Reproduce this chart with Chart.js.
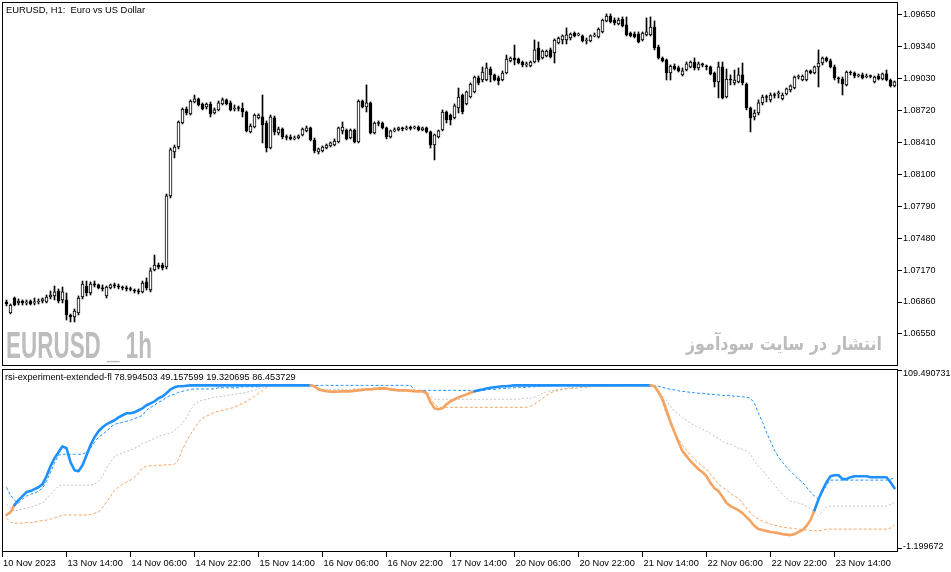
<!DOCTYPE html>
<html>
<head>
<meta charset="utf-8">
<title>EURUSD H1</title>
<script src="https://cdn.jsdelivr.net/npm/chart.js@4/dist/chart.umd.min.js"></script>
<style>
  html, body { margin:0; padding:0; background:#fff; }
  #wrap { position:relative; width:951px; height:572px; overflow:hidden; background:#fff; }
  #wrap canvas { position:absolute; left:0; }
  .lbl { position:absolute; font-family:"Liberation Sans", Arial, sans-serif; color:#000; white-space:pre; line-height:1; }
  #wm1 { position:absolute; left:6px; top:327px; font-family:"Liberation Sans Narrow","Liberation Sans",Arial,sans-serif; font-weight:bold; font-size:37.5px; line-height:1; color:#bdbdbd; white-space:pre; transform-origin:0 0; }
  #wm2 { position:absolute; right:69px; top:334px; font-family:"DejaVu Sans",sans-serif; font-weight:bold; font-size:19px; line-height:1; color:#bcbcbc; white-space:pre; transform-origin:100% 0; direction:rtl; }
</style>
</head>
<body>
<div id="wrap">
  <canvas id="priceChart" width="951" height="368" style="top:0"></canvas>
  <canvas id="oscChart" width="951" height="204" style="top:368px"></canvas>
  <div class="lbl" style="left:6px;top:5px;font-size:9.4px">EURUSD, H1:  Euro vs US Dollar</div>
  <div class="lbl" style="left:5px;top:373px;font-size:9.2px">rsi-experiment-extended-fl 78.994503 49.157599 19.320695 86.453729</div>
  <div id="wm1">EURUSD _ 1h</div>
  <div id="wm2">انتشار در سایت سودآموز</div>
</div>
<script>
// ---------- tick labels ----------
const timeTickPos = [-1.125, 15, 31, 47, 63, 79, 95, 111, 127, 143, 159, 175, 191, 207];
const timeTickLabels = ['10 Nov 2023','13 Nov 14:00','14 Nov 06:00','14 Nov 22:00','15 Nov 14:00','16 Nov 06:00','16 Nov 22:00','17 Nov 14:00','20 Nov 06:00','20 Nov 22:00','21 Nov 14:00','22 Nov 06:00','22 Nov 22:00','23 Nov 14:00'];
const priceTicks = [1.0655, 1.0686, 1.0717, 1.0748, 1.0779, 1.0810, 1.0841, 1.0872, 1.0903, 1.0934, 1.0965];
const oscTicks = [-1.199672, 109.490731];

// ---------- EURUSD H1 candles ----------
const opens = [
1.06860,1.06753,1.06899,1.06851,1.06870,1.06851,1.06870,1.06851,1.06860,1.06870,
1.06860,1.06909,1.06919,1.06967,1.06880,1.06880,1.06734,1.06715,1.06753,1.06909,
1.07016,1.06948,1.07035,1.07026,1.06996,1.06919,1.06996,1.07026,1.07016,1.07006,
1.06996,1.06987,1.06977,1.06967,1.06958,1.07055,1.06977,1.07171,1.07220,1.07220,
1.07201,1.07891,1.08318,1.08367,1.08600,1.08736,1.08688,1.08804,1.08834,1.08785,
1.08756,1.08785,1.08697,1.08727,1.08785,1.08824,1.08795,1.08736,1.08746,1.08746,
1.08707,1.08513,1.08561,1.08649,1.08659,1.08600,1.08357,1.08649,1.08503,1.08542,
1.08464,1.08464,1.08445,1.08454,1.08484,1.08523,1.08552,1.08435,1.08318,1.08328,
1.08357,1.08377,1.08386,1.08416,1.08523,1.08532,1.08454,1.08532,1.08416,1.08814,
1.08756,1.08795,1.08503,1.08600,1.08600,1.08552,1.08464,1.08523,1.08532,1.08552,
1.08542,1.08552,1.08552,1.08561,1.08532,1.08552,1.08513,1.08386,1.08464,1.08532,
1.08707,1.08678,1.08649,1.08746,1.08872,1.08785,1.08853,1.08902,1.09038,1.09018,
1.09018,1.09125,1.09067,1.09038,1.09018,1.09086,1.09203,1.09232,1.09222,1.09193,
1.09164,1.09154,1.09193,1.09329,1.09232,1.09252,1.09310,1.09281,1.09378,1.09407,
1.09407,1.09426,1.09475,1.09456,1.09446,1.09397,1.09397,1.09446,1.09436,1.09485,
1.09592,1.09640,1.09601,1.09563,1.09611,1.09553,1.09475,1.09465,1.09465,1.09407,
1.09456,1.09456,1.09533,1.09339,1.09232,1.09213,1.09086,1.09154,1.09135,1.09067,
1.09115,1.09145,1.09193,1.09135,1.09174,1.09154,1.09145,1.09086,1.08999,1.09145,
1.08853,1.09028,1.08989,1.08999,1.09067,1.08979,1.08746,1.08659,1.08697,1.08795,
1.08853,1.08824,1.08872,1.08882,1.08834,1.08882,1.08921,1.08940,1.09047,1.09018,
1.09018,1.09106,1.09086,1.09145,1.09183,1.09232,1.09203,1.09145,1.09038,1.09028,
1.08970,1.09096,1.09086,1.09057,1.09067,1.09047,1.09057,1.08999,1.09057,1.09028,
1.09077,1.09018,1.08960];
const highs = [
1.06880,1.06841,1.06909,1.06890,1.06880,1.06880,1.06880,1.06899,1.06890,1.06899,
1.06928,1.06967,1.07016,1.06987,1.07006,1.06948,1.06744,1.06792,1.06919,1.07064,
1.07064,1.07055,1.07064,1.07035,1.07026,1.07016,1.07035,1.07045,1.07035,1.07016,
1.07016,1.07006,1.06987,1.06987,1.07064,1.07094,1.07191,1.07317,1.07239,1.07239,
1.07910,1.08357,1.08386,1.08620,1.08746,1.08756,1.08824,1.08872,1.08843,1.08795,
1.08795,1.08804,1.08746,1.08814,1.08843,1.08834,1.08814,1.08775,1.08766,1.08795,
1.08717,1.08591,1.08688,1.08688,1.08872,1.08620,1.08678,1.08668,1.08561,1.08552,
1.08484,1.08484,1.08474,1.08484,1.08552,1.08571,1.08561,1.08454,1.08357,1.08377,
1.08396,1.08416,1.08445,1.08561,1.08610,1.08542,1.08542,1.08542,1.08824,1.08824,
1.08970,1.08804,1.08610,1.08620,1.08610,1.08561,1.08532,1.08552,1.08561,1.08561,
1.08571,1.08571,1.08571,1.08571,1.08561,1.08561,1.08523,1.08493,1.08532,1.08727,
1.08717,1.08688,1.08785,1.08940,1.08882,1.08911,1.08989,1.09057,1.09057,1.09145,
1.09183,1.09145,1.09077,1.09057,1.09106,1.09261,1.09242,1.09358,1.09232,1.09203,
1.09193,1.09203,1.09407,1.09388,1.09310,1.09310,1.09329,1.09417,1.09436,1.09456,
1.09524,1.09475,1.09485,1.09475,1.09456,1.09426,1.09456,1.09475,1.09524,1.09611,
1.09660,1.09660,1.09621,1.09621,1.09631,1.09631,1.09485,1.09485,1.09485,1.09485,
1.09621,1.09631,1.09592,1.09358,1.09242,1.09222,1.09164,1.09174,1.09154,1.09135,
1.09193,1.09203,1.09232,1.09193,1.09183,1.09164,1.09154,1.09096,1.09193,1.09193,
1.09125,1.09067,1.09115,1.09135,1.09183,1.08989,1.08756,1.08727,1.08824,1.08872,
1.08872,1.08892,1.08892,1.08911,1.08892,1.08940,1.08970,1.09057,1.09067,1.09067,
1.09115,1.09115,1.09154,1.09310,1.09242,1.09242,1.09222,1.09164,1.09047,1.09047,
1.09106,1.09106,1.09096,1.09077,1.09086,1.09077,1.09067,1.09057,1.09077,1.09086,
1.09115,1.09028,1.09009];
const lows = [
1.06822,1.06744,1.06822,1.06831,1.06831,1.06831,1.06831,1.06831,1.06841,1.06851,
1.06851,1.06890,1.06880,1.06851,1.06851,1.06685,1.06666,1.06666,1.06734,1.06890,
1.06919,1.06928,1.07006,1.06987,1.06967,1.06899,1.06987,1.06996,1.06987,1.06977,
1.06967,1.06967,1.06948,1.06938,1.06948,1.06977,1.06958,1.07162,1.07181,1.07171,
1.07181,1.07871,1.08260,1.08348,1.08591,1.08678,1.08678,1.08795,1.08766,1.08727,
1.08736,1.08659,1.08688,1.08717,1.08775,1.08775,1.08717,1.08717,1.08717,1.08659,
1.08513,1.08503,1.08552,1.08639,1.08406,1.08318,1.08348,1.08484,1.08484,1.08445,
1.08435,1.08435,1.08435,1.08445,1.08474,1.08513,1.08425,1.08309,1.08299,1.08318,
1.08348,1.08367,1.08377,1.08406,1.08493,1.08435,1.08445,1.08406,1.08406,1.08746,
1.08707,1.08493,1.08493,1.08571,1.08542,1.08445,1.08454,1.08513,1.08523,1.08523,
1.08532,1.08532,1.08542,1.08523,1.08523,1.08503,1.08357,1.08241,1.08454,1.08523,
1.08600,1.08581,1.08639,1.08697,1.08688,1.08775,1.08843,1.08892,1.08970,1.08999,
1.09009,1.08999,1.09009,1.08970,1.09009,1.09077,1.09193,1.09164,1.09174,1.09145,
1.09145,1.09145,1.09183,1.09193,1.09222,1.09242,1.09232,1.09183,1.09368,1.09368,
1.09368,1.09407,1.09436,1.09446,1.09388,1.09368,1.09388,1.09436,1.09426,1.09475,
1.09582,1.09572,1.09553,1.09553,1.09533,1.09446,1.09436,1.09426,1.09378,1.09397,
1.09446,1.09446,1.09310,1.09222,1.09193,1.09018,1.09018,1.09115,1.09096,1.09057,
1.09106,1.09135,1.09115,1.09115,1.09145,1.09115,1.09067,1.08950,1.08843,1.08834,
1.08843,1.08970,1.08970,1.08989,1.08970,1.08727,1.08513,1.08629,1.08678,1.08775,
1.08804,1.08804,1.08843,1.08843,1.08824,1.08872,1.08902,1.08931,1.09028,1.09009,
1.09009,1.09077,1.09077,1.08950,1.09164,1.09193,1.09135,1.09018,1.08989,1.08872,
1.08960,1.09067,1.09038,1.09047,1.09028,1.09038,1.09038,1.08989,1.09018,1.09018,
1.09009,1.08950,1.08950];
const closes = [
1.06841,1.06831,1.06831,1.06870,1.06851,1.06860,1.06841,1.06860,1.06870,1.06890,
1.06909,1.06928,1.06958,1.06870,1.06958,1.06734,1.06715,1.06773,1.06899,1.07035,
1.06948,1.07035,1.07026,1.06996,1.06987,1.07006,1.07026,1.07016,1.07006,1.06996,
1.06987,1.06982,1.06967,1.06958,1.07045,1.06996,1.07162,1.07220,1.07201,1.07191,
1.07891,1.08338,1.08367,1.08610,1.08736,1.08697,1.08814,1.08834,1.08775,1.08736,
1.08785,1.08688,1.08727,1.08795,1.08824,1.08785,1.08727,1.08746,1.08741,1.08707,
1.08523,1.08571,1.08678,1.08678,1.08581,1.08357,1.08659,1.08513,1.08542,1.08464,
1.08459,1.08445,1.08454,1.08474,1.08542,1.08552,1.08435,1.08328,1.08348,1.08367,
1.08386,1.08406,1.08425,1.08552,1.08561,1.08445,1.08532,1.08416,1.08814,1.08756,
1.08795,1.08503,1.08600,1.08595,1.08552,1.08464,1.08523,1.08532,1.08552,1.08542,
1.08552,1.08547,1.08561,1.08532,1.08552,1.08513,1.08386,1.08484,1.08523,1.08707,
1.08629,1.08629,1.08766,1.08853,1.08707,1.08902,1.08979,1.09047,1.08989,1.09096,
1.09135,1.09067,1.09018,1.09009,1.09086,1.09222,1.09232,1.09213,1.09183,1.09164,
1.09174,1.09193,1.09310,1.09213,1.09300,1.09300,1.09242,1.09407,1.09426,1.09446,
1.09456,1.09465,1.09446,1.09465,1.09397,1.09407,1.09446,1.09456,1.09514,1.09601,
1.09640,1.09582,1.09572,1.09601,1.09543,1.09456,1.09446,1.09436,1.09388,1.09475,
1.09485,1.09533,1.09329,1.09232,1.09203,1.09086,1.09154,1.09125,1.09106,1.09106,
1.09174,1.09193,1.09135,1.09174,1.09164,1.09145,1.09077,1.08999,1.09145,1.08843,
1.09028,1.09018,1.09018,1.09067,1.08989,1.08746,1.08649,1.08697,1.08795,1.08853,
1.08848,1.08872,1.08867,1.08892,1.08872,1.08931,1.08960,1.09047,1.09057,1.09057,
1.09106,1.09086,1.09145,1.09183,1.09232,1.09203,1.09145,1.09038,1.09028,1.08979,
1.09096,1.09086,1.09057,1.09067,1.09038,1.09057,1.09052,1.09047,1.09028,1.09077,
1.09018,1.08960,1.08999];

// ---------- rsi-experiment-extended-fl buffers ----------
const rsiLine = [
19.8,21.6,25.9,29.0,31.5,34.0,34.6,35.8,37.0,38.9,
43.8,50.0,54.9,58.6,62.3,61.1,52.5,47.5,46.9,50.6,
56.8,63.0,67.9,71.6,74.1,75.9,77.2,78.4,80.2,81.5,
82.7,82.7,83.3,84.6,85.8,87.7,88.9,90.1,92.0,93.2,
95.1,97.5,98.8,99.4,99.4,99.7,100,100,100,100,
100,100,100,100,100,100,100,100,100,100,
100,100,100,100,100,100,100,100,100,100,
100,100,100,100,100,100,100,99.4,97.5,96.9,
96.3,96.0,96.0,96.0,96.3,96.3,96.3,96.6,96.9,97.2,
97.5,97.5,97.8,98.1,98.1,98.1,97.5,97.2,96.9,96.9,
96.9,96.6,96.3,96.3,96.3,95.1,89.5,85.8,85.2,85.8,
88.3,90.1,91.4,92.6,93.5,94.4,95.4,96.3,96.9,97.5,
98.1,98.5,98.8,99.1,99.4,99.4,99.7,100,100,100,
100,100,100,100,100,100,100,100,100,100,
100,100,100,100,100,100,100,100,100,100,
100,100,100,100,100,100,100,100,100,100,
100,100,99.4,95.7,91.4,84.6,77.2,71.0,64.8,59.3,
56.2,53.1,50.6,48.1,46.3,43.8,39.5,36.4,34.6,30.9,
27.2,25.3,24.1,22.8,21.0,18.5,16.0,13.0,11.1,10.5,
9.9,9.3,9.0,8.6,8.0,7.7,7.4,8.0,9.3,10.5,
13.0,16.7,22.8,29.6,35.2,40.1,43.8,44.4,44.4,42.0,
42.0,43.2,43.8,43.8,43.8,43.8,43.2,43.2,43.2,43.2,
43.2,40.1,36.4];
const upperBand = [
37.0,32.1,29.0,27.2,29.6,31.5,32.7,33.3,34.6,36.4,
40.7,46.3,51.9,56.8,57.4,57.4,57.4,57.4,57.4,57.4,
58.6,61.1,64.8,67.9,69.8,71.6,74.1,75.9,76.5,77.2,
77.8,78.4,79.6,80.2,81.5,84.6,86.4,87.7,89.5,90.7,
92.6,93.8,94.4,95.7,96.3,96.9,97.5,97.8,97.8,97.8,
97.8,97.8,97.8,98.5,98.5,98.5,98.5,98.5,98.5,99.1,
99.1,99.1,99.1,99.1,100,100,100,100,100,100,
100,100,100,100,100,100,100,100,100,100,
100,100,100,100,100,100,100,100,100,100,
100,100,100,100,100,100,100,100,100,100,
100,100,96.9,96.9,96.9,96.9,96.9,96.9,96.9,96.9,
96.9,96.9,96.9,96.9,96.9,96.9,96.9,96.9,96.9,96.9,
97.2,97.5,97.5,97.8,98.1,98.1,98.5,98.5,98.8,98.8,
98.8,99.1,99.1,99.4,99.4,99.7,99.7,100,100,100,
100,100,100,100,100,100,100,100,100,100,
100,100,100,100,100,100,100,100,100,100,
100,100,99.7,99.4,98.8,98.1,97.5,97.2,96.6,96.3,
96.0,95.7,95.4,95.1,95.1,94.8,94.4,94.4,94.1,93.8,
93.8,93.8,93.2,93.2,92.9,92.6,92.0,88.9,82.7,77.2,
71.0,65.4,59.9,55.6,52.5,49.4,46.9,44.4,42.0,40.1,
37.0,34.0,31.5,29.6,34.0,38.3,41.4,41.4,41.4,41.4,
41.4,41.4,41.4,41.4,41.4,41.4,41.4,41.4,41.4,41.4,
41.4,42.0,42.6];
const midBand = [
26.5,24.1,22.2,22.8,23.5,24.1,24.7,25.3,26.5,27.2,
30.2,32.7,35.2,37.7,38.3,38.3,38.3,38.3,38.3,38.3,
38.3,38.3,38.9,40.7,43.8,48.8,52.5,56.2,57.4,58.0,
59.3,59.9,61.1,62.3,64.2,64.8,66.0,67.3,68.5,69.1,
69.8,70.4,72.2,74.1,76.5,80.2,84.6,88.3,90.1,90.7,
91.4,92.0,92.6,92.9,93.2,93.8,94.1,94.4,95.1,95.1,
95.7,96.3,96.9,98.1,98.8,99.4,99.7,100,100,100,
100,100,100,100,100,100,100,99.4,98.1,97.5,
97.5,97.5,97.5,97.5,97.5,97.5,97.5,97.8,97.8,97.8,
97.8,97.8,97.8,97.8,97.8,97.8,97.5,97.5,97.5,97.5,
96.9,96.9,96.9,96.9,96.9,96.3,93.8,91.4,91.4,91.4,
91.4,91.4,91.4,91.4,91.4,91.4,91.4,91.4,91.4,91.4,
91.4,91.4,91.4,91.4,91.4,91.4,91.4,91.4,91.4,92.0,
92.0,92.0,92.6,93.8,95.1,96.0,96.6,96.9,97.5,97.8,
98.1,98.5,98.8,99.1,99.1,99.4,99.4,99.4,99.4,99.4,
99.4,99.7,99.7,99.7,99.7,99.7,100,100,100,100,
100,100,99.4,96.3,93.8,90.7,87.0,84.0,82.1,80.2,
78.4,76.5,75.3,74.1,72.8,71.6,70.4,68.5,67.3,65.4,
64.2,63.6,62.3,61.1,60.5,59.3,57.4,53.1,50.0,47.5,
44.4,41.4,38.3,35.2,32.7,30.2,28.4,27.8,27.2,26.5,
25.3,23.5,21.6,19.1,22.2,24.7,25.3,25.3,25.3,25.3,
25.3,25.3,25.3,25.3,25.3,25.3,25.3,25.3,25.3,25.3,
25.3,26.5,27.8];
const lowerBand = [
17.9,15.4,14.8,14.8,14.8,15.1,15.1,15.4,16.0,16.4,
16.7,17.3,17.9,18.8,19.8,19.8,19.8,19.8,19.8,19.8,
19.8,20.1,21.0,21.6,24.7,27.8,31.5,35.2,37.0,38.9,
40.1,41.4,43.2,45.7,48.8,50.0,50.3,50.3,50.6,50.6,
50.9,50.9,51.2,54.3,60.5,65.4,69.8,73.5,77.2,79.6,
80.9,82.1,83.3,84.0,84.6,85.2,85.8,86.4,87.7,88.9,
90.1,91.7,93.2,95.1,96.9,98.8,99.7,100,100,100,
100,100,100,100,100,100,100,99.4,98.1,96.9,
96.9,96.9,96.9,96.9,96.9,96.9,96.9,97.5,97.5,97.5,
97.5,97.5,97.5,97.5,97.5,97.5,96.9,96.9,96.9,96.9,
96.9,96.9,96.9,96.9,96.9,95.7,92.0,88.3,86.4,86.4,
86.4,86.4,86.4,86.4,86.4,86.4,86.4,86.4,86.4,86.4,
86.4,86.4,86.4,86.4,86.4,86.4,86.4,86.4,86.4,86.4,
86.4,87.0,88.3,90.1,92.0,93.8,95.4,96.3,96.9,97.5,
97.8,98.1,98.1,98.5,98.8,98.8,99.1,99.4,99.4,99.4,
99.7,99.7,99.7,99.7,99.7,99.7,100,100,100,100,
100,100,99.7,96.9,89.5,82.1,77.2,71.6,66.7,63.0,
59.9,56.8,54.3,51.9,50.0,48.1,45.1,42.0,38.9,37.0,
35.2,33.3,31.5,30.2,27.2,24.1,21.0,18.5,17.3,16.0,
15.1,14.2,13.6,13.0,12.3,12.0,11.7,11.4,11.1,10.8,
10.5,10.2,10.2,9.9,10.5,11.1,11.1,11.1,11.1,11.1,
11.1,11.1,11.1,11.1,11.1,11.1,11.1,11.1,11.1,11.1,
11.1,11.7,13.6];
// bar ranges where the main line is in its falling (orange) state
const fallingRanges = [[0, 2], [76, 117], [161, 202]];

// ---------- styling ----------
const FONT = 'Liberation Sans';
const BLUE = '#1e90ff', ORANGE = '#f4a460', SILVER = '#c0c0c0';

const frame = {
  id: 'frame',
  afterDraw(chart) {
    const { ctx, chartArea: a } = chart;
    ctx.save();
    ctx.strokeStyle = '#000';
    ctx.lineWidth = 1;
    ctx.strokeRect(a.left + 0.5, a.top + 0.5, a.right - a.left - 1, a.bottom - a.top - 1);
    ctx.restore();
  }
};

function noPad(s) { s.paddingTop = 0; s.paddingBottom = 0; s.paddingLeft = 0; s.paddingRight = 0; }

const xRange = { type: 'linear', min: -1.125, max: 222.875, offset: false };

// ---------- price chart ----------
const wickData = lows.map((l, i) => ({ x: i, y: [l, highs[i]] }));
const bodyData = opens.map((o, i) => ({ x: i, y: [o, closes[i]] }));

new Chart(document.getElementById('priceChart'), {
  type: 'bar',
  data: {
    datasets: [
      { data: wickData, barThickness: 1, backgroundColor: '#000', borderWidth: 0, grouped: false, order: 2 },
      { data: bodyData, barThickness: 3, minBarLength: 1, grouped: false, order: 1,
        backgroundColor: ctx => closes[ctx.dataIndex] >= opens[ctx.dataIndex] ? '#fff' : '#000',
        borderColor: '#000', borderWidth: 1, borderSkipped: false }
    ]
  },
  options: {
    responsive: false, animation: false, devicePixelRatio: 1, events: [],
    plugins: { legend: { display: false }, tooltip: { enabled: false } },
    layout: { padding: { left: 2, top: 2, right: 0, bottom: 2 } },
    scales: {
      x: Object.assign({}, xRange, { display: false }),
      y: {
        type: 'linear', position: 'right', min: 1.06238, max: 1.09776, bounds: 'data',
        afterFit: s => { s.width = 53; noPad(s); },
        afterBuildTicks: s => { s.ticks = priceTicks.map(v => ({ value: v })); },
        ticks: { callback: v => Number(v).toFixed(5), font: { family: FONT, size: 9 }, color: '#000', padding: 1, autoSkip: false },
        grid: { drawOnChartArea: false, drawTicks: true, tickLength: 4, color: '#000', lineWidth: 1 },
        border: { display: false }
      }
    }
  },
  plugins: [frame]
});

// ---------- oscillator chart ----------
const pts = arr => arr.map((v, i) => ({ x: i, y: v }));
const isFalling = i => fallingRanges.some(([a, b]) => i >= a && i <= b);

new Chart(document.getElementById('oscChart'), {
  type: 'line',
  data: {
    datasets: [
      { data: pts(rsiLine), borderColor: BLUE, borderWidth: 2.6, pointRadius: 0, tension: 0, order: 0,
        borderJoinStyle: 'round', borderCapStyle: 'round',
        segment: { borderColor: c => (isFalling(c.p0DataIndex) && isFalling(c.p1DataIndex)) ? ORANGE : BLUE } },
      { data: pts(upperBand), borderColor: BLUE, borderWidth: 1, borderDash: [3, 2], pointRadius: 0, tension: 0, order: 1 },
      { data: pts(midBand), borderColor: SILVER, borderWidth: 1, borderDash: [2, 2], pointRadius: 0, tension: 0, order: 2 },
      { data: pts(lowerBand), borderColor: ORANGE, borderWidth: 1, borderDash: [3, 2], pointRadius: 0, tension: 0, order: 3 }
    ]
  },
  options: {
    responsive: false, animation: false, devicePixelRatio: 1, events: [],
    plugins: { legend: { display: false }, tooltip: { enabled: false } },
    layout: { padding: { left: 2, top: 1, right: 0, bottom: 0 } },
    scales: {
      x: Object.assign({}, xRange, {
        position: 'bottom',
        afterFit: s => { s.height = 20; noPad(s); },
        afterBuildTicks: s => { s.ticks = timeTickPos.map(v => ({ value: v })); },
        ticks: { align: 'start', labelOffset: 1, maxRotation: 0, minRotation: 0, autoSkip: false, padding: 1,
                 font: { family: FONT, size: 9.3 }, color: '#000', callback: (v, i) => timeTickLabels[i] },
        grid: { drawOnChartArea: false, drawTicks: true, tickLength: 5, color: '#000', lineWidth: 1 },
        border: { display: false }
      }),
      y: {
        type: 'linear', position: 'right', min: -3.055, max: 110.11, bounds: 'data',
        afterFit: s => { s.width = 53; noPad(s); },
        afterBuildTicks: s => { s.ticks = oscTicks.map(v => ({ value: v })); },
        // top label sits just below its tick, bottom label just above it (as in the terminal)
        ticks: {
          callback: (v, i) => { const t = Number(v).toFixed(6); return i === 0 ? [t, ''] : ['', t]; },
          font: c => ({ family: FONT, size: 9, lineHeight: c.index === 0 ? '4.6px' : '7px' }),
          color: '#000', padding: 1, autoSkip: false
        },
        grid: { drawOnChartArea: false, drawTicks: true, tickLength: 4, color: '#000', lineWidth: 1 },
        border: { display: false }
      }
    }
  },
  plugins: [frame]
});

// ---------- watermark text sizing ----------
function fitWidth(id, target) {
  const el = document.getElementById(id);
  const w = el.getBoundingClientRect().width;
  if (w > 0) el.style.transform = 'scaleX(' + (target / w) + ')';
}
fitWidth('wm1', 146);
fitWidth('wm2', 196);
</script>
</body>
</html>
